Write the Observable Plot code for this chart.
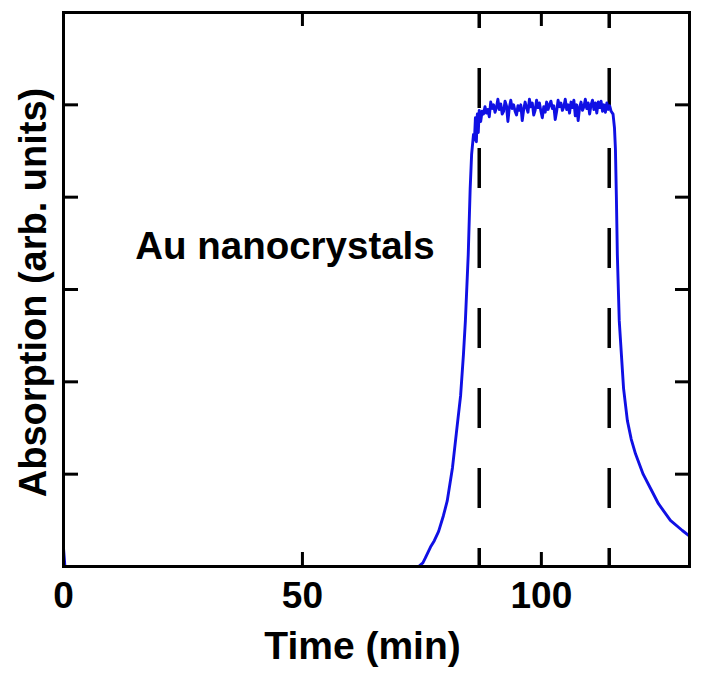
<!DOCTYPE html>
<html><head><meta charset="utf-8">
<script src="https://cdn.jsdelivr.net/npm/d3@7"></script>
<script src="https://cdn.jsdelivr.net/npm/@observablehq/plot@0.6"></script>
<style>body{margin:0;background:#fff;}</style>
</head><body><div id="chart"></div>
<script>
// time (min) and absorption (arb. units)
const time = [0, 0.3, 74.3, 75.2, 75.7, 76.8, 77.6, 78.5, 79.5, 80.3, 81.4, 82.2, 83.1, 83.7, 84.1, 84.7, 85.1, 85.4, 85.8,
  86.0, 86.2, 86.4, 86.6, 86.8, 87.0, 87.3, 87.6, 87.9, 88.2, 88.5, 88.8, 89.1, 89.4, 89.7, 90.0, 90.3, 90.6, 90.9,
  91.2, 91.5, 91.8, 92.1, 92.4, 92.7, 93.0, 93.3, 93.6, 93.9, 94.2, 94.5, 94.8, 95.1, 95.4, 95.7, 96.0, 96.3, 96.6,
  96.9, 97.2, 97.5, 97.8, 98.1, 98.4, 98.7, 99.0, 99.3, 99.6, 99.9, 100.2, 100.5, 100.8, 101.1, 101.4, 101.7, 102.0,
  102.3, 102.6, 102.9, 103.2, 103.5, 103.8, 104.1, 104.4, 104.7, 105.0, 105.3, 105.6, 105.9, 106.2, 106.5, 106.8,
  107.1, 107.4, 107.7, 108.0, 108.3, 108.6, 108.9, 109.2, 109.5, 109.8, 110.1, 110.4, 110.7, 111.0, 111.3, 111.6,
  111.9, 112.2, 112.5, 112.8, 113.1, 113.4, 113.7, 114.0, 114.3, 114.6, 115.0,
  115.3, 115.5, 115.7, 115.9, 116.3, 117.2, 118.0, 118.8, 119.7, 121.3, 122.8, 124.5, 127.0, 129.5, 131.0];
const absorption = [0.2, 0, 0, 0.04, 0.09, 0.21, 0.28, 0.38, 0.55, 0.71, 1.07, 1.44, 1.85, 2.3, 2.66, 3.38, 4.09, 4.46, 4.68,
  4.62, 4.86, 4.60, 4.90, 4.70, 4.94, 4.82, 4.93, 4.90, 4.98, 4.91, 4.95, 4.87, 5.03, 4.96, 5.00, 4.92, 4.97, 5.06,
  4.95, 5.01, 4.90, 4.93, 5.04, 4.99, 4.82, 4.97, 5.05, 4.96, 5.00, 4.93, 4.89, 4.99, 4.94, 5.00, 4.83, 4.95, 5.03,
  4.97, 4.92, 5.06, 4.98, 5.02, 4.89, 4.94, 5.05, 4.97, 5.02, 4.93, 4.86, 4.98, 4.92, 5.03, 4.95, 5.00, 5.04,
  4.96, 4.99, 4.84, 4.93, 5.05, 4.98, 5.02, 4.94, 4.98, 5.06, 4.95, 5.00, 4.91, 5.03, 4.97, 5.05,
  4.88, 5.00, 4.83, 4.97, 5.03, 4.94, 4.98, 5.06, 4.96, 5.02, 4.90, 5.00, 5.05, 4.95, 5.02, 4.91,
  5.03, 4.97, 5.04, 4.93, 5.00, 4.92, 5.02, 4.95, 4.99, 4.93, 4.90,
  4.75, 4.52, 4.0, 3.38, 2.66, 1.93, 1.58, 1.38, 1.22, 1.00, 0.85, 0.68, 0.50, 0.39, 0.33];
const xTickLabels = [0, 50, 100];
const xInnerTicks = [50, 100];
const yInnerTicks = [1, 2, 3, 4, 5];
const markerTimes = [87.0, 114.2];
const annotationText = ["Au nanocrystals"];
const annotationTime = [15.0];
const annotationValue = [3.46];
const xLabel = "Time (min)";
const yLabel = "Absorption (arb. units)";

const data = time.map((t, i) => ({t, a: absorption[i]}));
const notes = annotationText.map((s, i) => ({s, t: annotationTime[i], a: annotationValue[i]}));

const chart = Plot.plot({
  width: 701,
  height: 678,
  marginLeft: 63,
  marginRight: 12,
  marginTop: 12,
  marginBottom: 112,
  style: {fontFamily: "'Liberation Sans', Arial, sans-serif", fontWeight: "bold", color: "black", background: "white"},
  x: {domain: [0, 131]},
  y: {domain: [0, 6]},
  marks: [
    Plot.ruleX(markerTimes, {stroke: "black", strokeWidth: 3.5, strokeDasharray: "40,40", strokeDashoffset: 24}),
    Plot.line(data, {x: "t", y: "a", stroke: "#1010e4", strokeWidth: 2.9}),
    Plot.axisX({anchor: "bottom", ticks: xTickLabels, tickSize: 0, tickPadding: 15, fontSize: 37, label: null}),
    Plot.axisX({anchor: "bottom", ticks: xInnerTicks, tickSize: -14, tickFormat: () => "", strokeWidth: 3, label: null}),
    Plot.axisX({anchor: "top", ticks: xInnerTicks, tickSize: -13, tickFormat: () => "", strokeWidth: 3, label: null}),
    Plot.axisY({anchor: "left", ticks: yInnerTicks, tickSize: -15, tickFormat: () => "", strokeWidth: 3, label: null}),
    Plot.axisY({anchor: "right", ticks: yInnerTicks, tickSize: -15, tickFormat: () => "", strokeWidth: 3, label: null}),
    Plot.frame({stroke: "black", strokeWidth: 3}),
    Plot.text(notes, {x: "t", y: "a", text: "s", textAnchor: "start", lineAnchor: "middle", fontSize: 38.5, fill: "black"}),
    Plot.text([xLabel], {frameAnchor: "bottom", dx: -14, dy: 80, fontSize: 39, fill: "black", textAnchor: "middle", lineAnchor: "middle"}),
    Plot.text([yLabel], {frameAnchor: "left", dx: -30, dy: 3, rotate: -90, fontSize: 38, fill: "black", textAnchor: "middle", lineAnchor: "middle"})
  ]
});
document.getElementById("chart").appendChild(chart);
</script>
</body></html>
